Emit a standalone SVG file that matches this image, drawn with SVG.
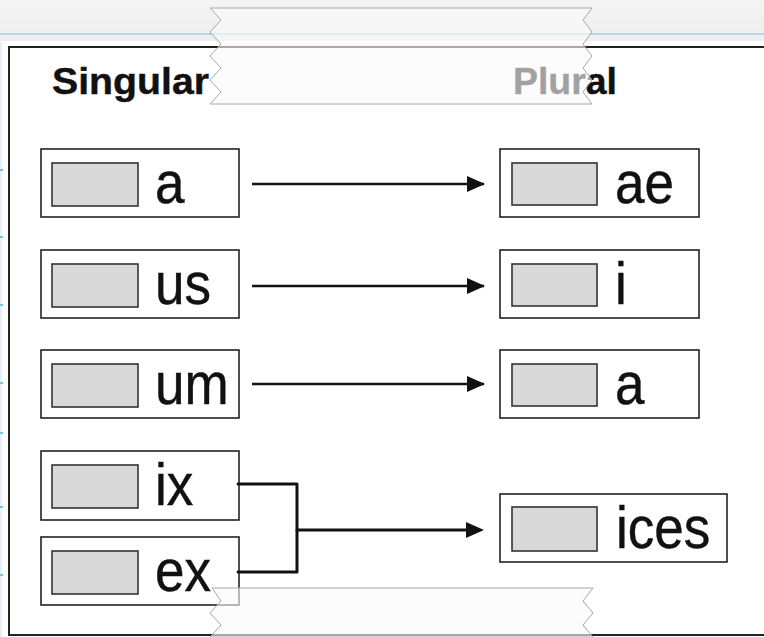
<svg xmlns="http://www.w3.org/2000/svg" width="764" height="637" viewBox="0 0 764 637">
  <defs>
    <marker id="arrow" viewBox="0 0 18 16" refX="17" refY="8" markerWidth="18" markerHeight="16" markerUnits="userSpaceOnUse" orient="auto">
      <path d="M0,0 L18,8 L0,16 Z" fill="#111"/>
    </marker>
    <linearGradient id="topbar" x1="0" y1="0" x2="0" y2="1">
      <stop offset="0" stop-color="#f4f4f4"/>
      <stop offset="1" stop-color="#eeeeee"/>
    </linearGradient>
  </defs>
  <style>
    .frame { fill: #ffffff; stroke: #222; stroke-width: 2; }
    .node { fill: #ffffff; stroke: #222; stroke-width: 1.6; }
    .swatch { fill: #d9d9d9; stroke: #333; stroke-width: 1.6; }
    .label { font-family: "Liberation Sans", Arial, sans-serif; font-size: 53px; fill: #111; stroke: #111; stroke-width: 0.4; }
    .head { font-family: "Liberation Sans", Arial, sans-serif; font-size: 37px; font-weight: bold; fill: #111; stroke: #111; stroke-width: 0.4; }
    .edge { fill: none; stroke: #111; stroke-width: 2.6; }
    .bracket { fill: none; stroke: #111; stroke-width: 3; stroke-linejoin: round; stroke-linecap: round; }
    .tape { fill: #fafafa; fill-opacity: 0.62; stroke: #a8a8a8; stroke-width: 1; }
    .tick { stroke: #7cc4dc; stroke-width: 2; }
  </style>

  <!-- page background and window strip -->
  <rect x="0" y="0" width="764" height="637" fill="#ffffff"/>
  <rect x="0" y="0" width="764" height="41" fill="url(#topbar)"/>
  <line x1="0" y1="34" x2="764" y2="34" stroke="#b3d8e4" stroke-width="2"/>
  <line x1="1" y1="42" x2="1" y2="637" stroke="#e3f1f6" stroke-width="2"/>
  <g id="ruler-ticks">
    <line class="tick" x1="0" y1="170" x2="3" y2="170"/>
    <line class="tick" x1="0" y1="237" x2="3" y2="237"/>
    <line class="tick" x1="0" y1="305" x2="3" y2="305"/>
    <line class="tick" x1="0" y1="383" x2="3" y2="383"/>
    <line class="tick" x1="0" y1="433" x2="3" y2="433"/>
    <line class="tick" x1="0" y1="507" x2="3" y2="507"/>
    <line class="tick" x1="0" y1="575" x2="3" y2="575"/>
  </g>

  <!-- outer frame -->
  <rect class="frame" x="9" y="47" width="780" height="588"/>

  <!-- column headings -->
  <g id="headings">
    <text class="head" x="52" y="94" textLength="157" lengthAdjust="spacingAndGlyphs">Singular</text>
    <text class="head" x="513" y="94" textLength="104" lengthAdjust="spacingAndGlyphs">Plural</text>
  </g>

  <!-- singular endings -->
  <g id="sg-a">
    <rect class="node" x="41" y="149" width="198" height="68"/>
    <rect class="swatch" x="52" y="163" width="86" height="43"/>
    <text class="label" transform="translate(155,203) scale(1,1.13)">a</text>
  </g>
  <g id="sg-us">
    <rect class="node" x="41" y="250" width="198" height="68"/>
    <rect class="swatch" x="52" y="264" width="86" height="43"/>
    <text class="label" transform="translate(155,304) scale(1,1.13)">us</text>
  </g>
  <g id="sg-um">
    <rect class="node" x="41" y="350" width="198" height="68"/>
    <rect class="swatch" x="52" y="364" width="86" height="43"/>
    <text class="label" transform="translate(155,404) scale(1,1.13)">um</text>
  </g>
  <g id="sg-ix">
    <rect class="node" x="41" y="451" width="198" height="69"/>
    <rect class="swatch" x="52" y="465" width="86" height="43"/>
    <text class="label" transform="translate(155,505) scale(1,1.13)">ix</text>
  </g>
  <g id="sg-ex">
    <rect class="node" x="41" y="537" width="198" height="68"/>
    <rect class="swatch" x="52" y="551" width="86" height="43"/>
    <text class="label" transform="translate(155,591) scale(1,1.13)">ex</text>
  </g>

  <!-- plural endings -->
  <g id="pl-ae">
    <rect class="node" x="500" y="149" width="199" height="68"/>
    <rect class="swatch" x="512" y="163" width="85" height="42"/>
    <text class="label" transform="translate(615,203) scale(1,1.13)">ae</text>
  </g>
  <g id="pl-i">
    <rect class="node" x="500" y="250" width="199" height="68"/>
    <rect class="swatch" x="512" y="264" width="85" height="42"/>
    <text class="label" transform="translate(615,304) scale(1,1.13)">i</text>
  </g>
  <g id="pl-a">
    <rect class="node" x="500" y="350" width="199" height="68"/>
    <rect class="swatch" x="512" y="364" width="85" height="42"/>
    <text class="label" transform="translate(615,404) scale(1,1.13)">a</text>
  </g>
  <g id="pl-ices">
    <rect class="node" x="500" y="494" width="227" height="68"/>
    <rect class="swatch" x="512" y="507" width="85" height="44"/>
    <text class="label" transform="translate(616,548) scale(1,1.13)">ices</text>
  </g>

  <!-- connectors -->
  <g id="connectors">
    <line class="edge" x1="252" y1="184" x2="484" y2="184" marker-end="url(#arrow)"/>
    <line class="edge" x1="252" y1="286" x2="484" y2="286" marker-end="url(#arrow)"/>
    <line class="edge" x1="252" y1="384" x2="484" y2="384" marker-end="url(#arrow)"/>
    <path class="bracket" d="M238,484 H297 V572 H238"/>
    <line class="bracket" x1="297" y1="530" x2="470" y2="530"/>
    <path d="M466,522 L484,530 L466,538 Z" fill="#111"/>
  </g>

  <!-- translucent torn tape strips -->
  <path class="tape" d="M210,8 H592 L583,20 L592,32 L583,44 L592,56 L583,68 L592,80 L583,92 L592,104 H210 L221,92 L210,80 L221,68 L210,56 L221,44 L210,32 L221,20 Z"/>
  <path class="tape" d="M212,588 H593 L583,601 L593,613 L583,625 L593,637 H210 L221,625 L210,613 L221,601 Z"/>
</svg>
